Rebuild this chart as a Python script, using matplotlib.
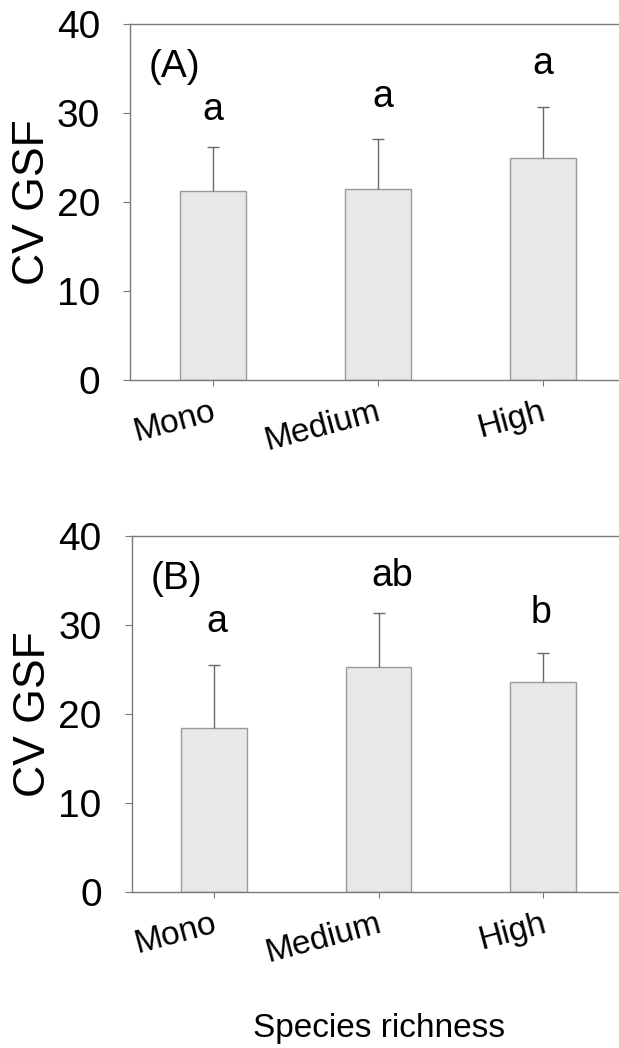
import matplotlib
matplotlib.use("Agg")
import matplotlib.pyplot as plt

plt.rcParams['font.family'] = ['Liberation Sans', 'DejaVu Sans']

categories = ["Mono", "Medium", "High"]

# panel A
mean_a = [21.2, 21.5, 25.0]
err_a = [5.0, 5.6, 5.7]
letters_a = ["a", "a", "a"]
letter_y_a = [29.2, 30.7, 34.4]

# panel B
mean_b = [18.4, 25.3, 23.6]
err_b = [7.1, 6.1, 3.2]
letters_b = ["a", "ab", "b"]
letter_y_b = [29.2, 34.4, 30.2]

yticks = [0, 10, 20, 30, 40]

W, H = 619, 1048
fig = plt.figure(figsize=(W / 100, H / 100), dpi=100)

bar_face = "#e8e8e8"
bar_edge = "#9a9a9a"
err_col = "#6a6a6a"
spine_col = "#7a7a7a"


def panel(rect, means, errs, letters, letter_y, letter_dx, tag):
    ax = fig.add_axes(rect)
    x = list(range(len(categories)))
    tops = [m + e for m, e in zip(means, errs)]
    ax.bar(x, means, width=0.4, color=bar_face, edgecolor=bar_edge,
           linewidth=1.0, zorder=2)
    # upper error only: stem plus a single cap at the top
    ax.vlines(x, means, tops, colors=err_col, linewidth=1.0, zorder=3)
    ax.plot(x, tops, linestyle="none", marker="_", markersize=9,
            markeredgewidth=1.0, color=err_col, zorder=3)
    for xi, lab, ly, dx in zip(x, letters, letter_y, letter_dx):
        ax.text(xi + dx, ly, lab, ha="center", va="baseline", fontsize=27)
    ax.text(-0.385, 34.1, tag, ha="left", va="baseline", fontsize=28)
    ax.set_xlim(-0.5, 2.46)
    ax.set_ylim(0, 40)
    ax.set_yticks(yticks)
    ax.set_yticklabels([str(t) for t in yticks], fontsize=28)
    ax.set_xticks(x)
    ax.set_xticklabels([])
    # slanted category names, right end just past each tick
    for xi, cat in zip(x, categories):
        ax.annotate(cat, xy=(xi, 0), xycoords=("data", "axes fraction"),
                    xytext=(6, -16), textcoords="offset pixels",
                    rotation=15, ha="right", va="top", fontsize=24,
                    annotation_clip=False)
    ax.tick_params(axis="y", direction="out", length=5, width=0.8,
                   color=spine_col, pad=16.5)
    ax.tick_params(axis="x", direction="out", length=4, width=0.8,
                   color=spine_col)
    for s in ("left", "bottom", "top"):
        ax.spines[s].set_color(spine_col)
        ax.spines[s].set_linewidth(1.0)
    ax.spines["right"].set_visible(False)
    ax.set_ylabel("CV GSF", fontsize=32)
    ax.yaxis.set_label_coords(-0.158, 0.5)
    return ax


ax_a = panel([130 / W, 1 - 380 / H, (W - 130) / W, 356 / H],
             mean_a, err_a, letters_a, letter_y_a, [0.0, 0.033, 0.0], "(A)")
ax_b = panel([131.5 / W, 1 - 892 / H, (W - 131.5) / W, 356 / H],
             mean_b, err_b, letters_b, letter_y_b, [0.02, 0.085, -0.016], "(B)")

fig.text(379 / W, 1 - 1036.7 / H, "Species richness", ha="center",
         va="baseline", fontsize=24)

fig.savefig("out.png", dpi=100)
